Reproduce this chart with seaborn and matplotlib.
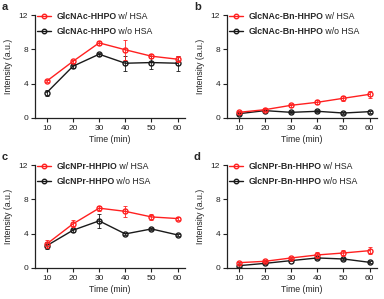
import matplotlib
matplotlib.use("Agg")
import matplotlib.pyplot as plt
import seaborn as sns
import pandas as pd

time = [10, 20, 30, 40, 50, 60]

a_w = [4.3, 6.6, 8.75, 7.95, 7.2, 6.85]
a_w_err = [0.15, 0.2, 0.2, 1.15, 0.2, 0.35]
a_wo = [2.96, 6.03, 7.43, 6.38, 6.46, 6.38]
a_wo_err = [0.35, 0.2, 0.2, 0.9, 0.8, 0.85]

b_w = [0.66, 0.97, 1.48, 1.83, 2.3, 2.76]
b_w_err = [0.15, 0.15, 0.15, 0.25, 0.3, 0.4]
b_wo = [0.5, 0.86, 0.66, 0.78, 0.58, 0.74]
b_wo_err = [0.1, 0.1, 0.1, 0.1, 0.1, 0.1]

c_w = [2.8, 5.14, 6.97, 6.6, 5.95, 5.76]
c_w_err = [0.5, 0.4, 0.3, 0.6, 0.3, 0.15]
c_wo = [2.6, 4.4, 5.49, 3.97, 4.55, 3.85]
c_wo_err = [0.4, 0.2, 0.8, 0.15, 0.15, 0.15]

d_w = [0.62, 0.78, 1.17, 1.52, 1.75, 2.02]
d_w_err = [0.1, 0.1, 0.15, 0.3, 0.3, 0.4]
d_wo = [0.27, 0.54, 0.86, 1.17, 1.05, 0.66]
d_wo_err = [0.1, 0.1, 0.1, 0.15, 0.1, 0.1]

panel_labels = ["a", "b", "c", "d"]
names_w = ["GlcNAc-HHPO", "GlcNAc-Bn-HHPO", "GlcNPr-HHPIO", "GlcNPr-Bn-HHPO"]
names_wo = ["GlcNAc-HHPO", "GlcNAc-Bn-HHPO", "GlcNPr-HHPO", "GlcNPr-Bn-HHPO"]
suffix_w = " w/ HSA"
suffix_wo = " w/o HSA"
yticks = [0, 4, 8, 12]

sns.set_theme(style="ticks")
plt.rcParams["font.family"] = ["Liberation Sans", "DejaVu Sans"]
plt.rcParams["font.size"] = 6

fig = plt.figure(figsize=(3.84, 2.99), dpi=100)
W, H = 384, 299
boxes = [(35, 15), (227, 15), (35, 165), (227, 165)]
aw, ah = 150, 103

RED = "#FF2020"
BLK = "#1a1a1a"

series = [(a_w, a_w_err, a_wo, a_wo_err), (b_w, b_w_err, b_wo, b_wo_err),
          (c_w, c_w_err, c_wo, c_wo_err), (d_w, d_w_err, d_wo, d_wo_err)]

legends = []
for i, (x0, y0) in enumerate(boxes):
    ax = fig.add_axes([x0 / W, (H - y0 - ah) / H, aw / W, ah / H])
    w, we, wo, woe = series[i]
    df_wo = pd.DataFrame({"t": time, "v": wo})
    df_w = pd.DataFrame({"t": time, "v": w})
    ax.errorbar(time, wo, yerr=woe, fmt="none", ecolor=BLK, elinewidth=0.6,
                capsize=1.2, capthick=0.6, zorder=2)
    sns.lineplot(data=df_wo, x="t", y="v", ax=ax, color=BLK, marker="o",
                 markersize=3.6, markerfacecolor="none", markeredgecolor=BLK,
                 markeredgewidth=1.0, linewidth=1.0, label=names_wo[i], zorder=3)
    ax.errorbar(time, w, yerr=we, fmt="none", ecolor=RED, elinewidth=0.6,
                capsize=1.2, capthick=0.6, zorder=4)
    sns.lineplot(data=df_w, x="t", y="v", ax=ax, color=RED, marker="o",
                 markersize=3.6, markerfacecolor="none", markeredgecolor=RED,
                 markeredgewidth=1.0, linewidth=1.0, label=names_w[i], zorder=5)
    ax.set_xlim(5.5, 62.8)
    ax.set_ylim(0, 12)
    ax.set_xticks(time)
    ax.set_yticks(yticks)
    ax.tick_params(labelsize=6, length=3, width=0.8, pad=2, colors="#222222")
    for s in ["left", "bottom"]:
        ax.spines[s].set_linewidth(0.9)
        ax.spines[s].set_color("#222222")
    sns.despine(ax=ax)
    ax.set_xlabel("Time (min)", fontsize=6.3, labelpad=2)
    ax.set_ylabel("Intensity (a.u.)", fontsize=6.3, labelpad=4)
    handles, labels = ax.get_legend_handles_labels()
    leg = ax.legend(handles[::-1], labels[::-1], loc="upper left",
                    bbox_to_anchor=(-0.01, 1.06), frameon=False,
                    handlelength=1.6, handletextpad=0.6, labelspacing=0.7,
                    prop={"weight": "bold", "size": 6.3}, borderaxespad=0,
                    markerscale=0.9)
    legends.append(leg)
    fig.text((x0 - 33) / W, 1 - (y0 - 13) / H, panel_labels[i],
             fontsize=8, fontweight="bold", va="top", ha="left")

fig.canvas.draw()
renderer = fig.canvas.get_renderer()
inv = fig.transFigure.inverted()
for leg in legends:
    for t, suf in zip(leg.get_texts(), [suffix_w, suffix_wo]):
        bb = t.get_window_extent(renderer)
        x1, yb = inv.transform((bb.x1, bb.y0))
        fig.text(x1, yb, suf, va="bottom", ha="left", fontsize=6.3,
                 color="#222222")

fig.savefig("out.png", dpi=100)
